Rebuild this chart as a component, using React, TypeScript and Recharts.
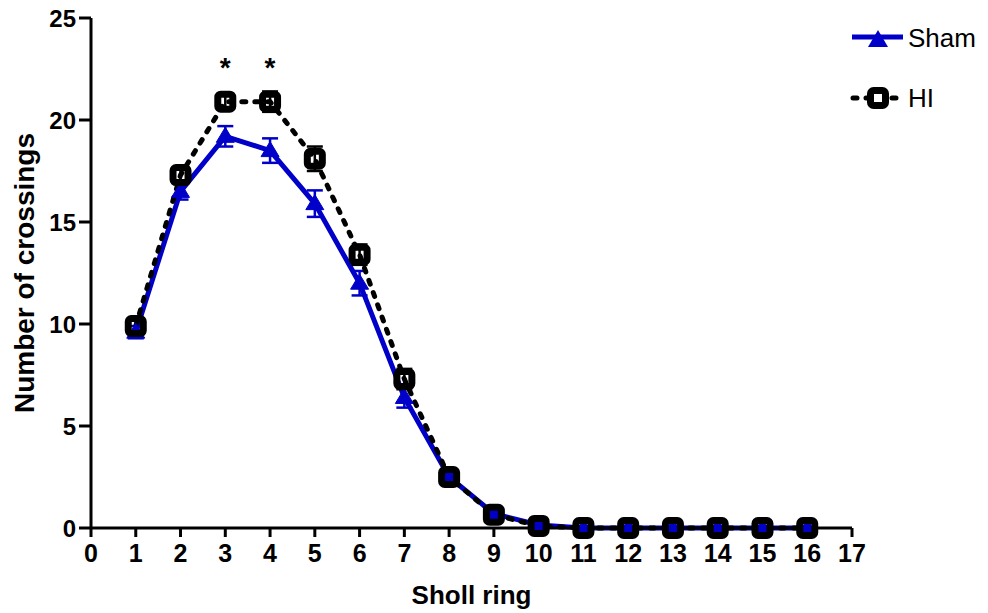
import React from "react";
import {
  LineChart,
  Line,
  XAxis,
  YAxis,
  ErrorBar,
  Legend,
  ReferenceDot,
} from "recharts";

const rings = [1, 2, 3, 4, 5, 6, 7, 8, 9, 10, 11, 12, 13, 14, 15, 16];
const shamMeans = [9.6, 16.5, 19.2, 18.5, 15.9, 12.0, 6.4, 2.5, 0.7, 0.15, 0, 0, 0, 0, 0, 0];
const shamSem = [0.3, 0.4, 0.5, 0.6, 0.65, 0.6, 0.5, 0.2, 0.15, 0.1, 0, 0, 0, 0, 0, 0];
const hiMeans = [9.9, 17.3, 20.9, 20.9, 18.1, 13.4, 7.3, 2.5, 0.65, 0.1, 0, 0, 0, 0, 0, 0];
const hiSem = [0.3, 0.3, 0.4, 0.5, 0.6, 0.5, 0.5, 0.2, 0.1, 0.1, 0, 0, 0, 0, 0, 0];
const xTicks = [0, 1, 2, 3, 4, 5, 6, 7, 8, 9, 10, 11, 12, 13, 14, 15, 16, 17];
const yTicks = [0, 5, 10, 15, 20, 25];
const seriesNames = ["Sham", "HI"];
const starRings = [3, 4];
const starLevel = 22.8;

const BLUE = "#0000c8";
const FONT = "'Liberation Sans', Arial, sans-serif";

const data = rings.map((ring, i) => ({
  ring,
  sham: shamMeans[i],
  shamErr: shamSem[i],
  hi: hiMeans[i],
  hiErr: hiSem[i],
}));

// filled blue triangle marker
const triangleDot = (props: any) => {
  const { cx, cy, index } = props;
  if (cx == null || cy == null) return <g key={`t-${index}`} />;
  return (
    <polygon
      key={`t-${index}`}
      points={`${cx},${cy - 9} ${cx - 9},${cy + 6} ${cx + 9},${cy + 6}`}
      fill={BLUE}
      stroke={BLUE}
      strokeWidth={1}
    />
  );
};

// thick rounded open square marker
const squareDot = (props: any) => {
  const { cx, cy, index } = props;
  if (cx == null || cy == null) return <g key={`s-${index}`} />;
  return (
    <rect
      key={`s-${index}`}
      x={cx - 7.5}
      y={cy - 7.5}
      width={15}
      height={15}
      rx={3}
      fill="none"
      stroke="#000"
      strokeWidth={7}
    />
  );
};

const renderLegend = () => (
  <svg width={140} height={100} style={{ overflow: "visible" }}>
    <line x1={4} y1={17} x2={55} y2={17} stroke={BLUE} strokeWidth={5} />
    <polygon points="30,10 20,27 40,27" fill={BLUE} />
    <text x={60} y={27} fontSize={26} fontFamily={FONT} fill="#000">
      {seriesNames[0]}
    </text>
    <line
      x1={5}
      y1={78}
      x2={55}
      y2={78}
      stroke="#000"
      strokeWidth={5}
      strokeDasharray="4 9"
      strokeLinecap="round"
    />
    <rect x={22.5} y={70.5} width={15} height={15} rx={3} fill="#fff" stroke="#000" strokeWidth={7} />
    <text x={60} y={87} fontSize={26} fontFamily={FONT} fill="#000">
      {seriesNames[1]}
    </text>
  </svg>
);

export default function App() {
  return (
    <div style={{ width: 988, height: 613, background: "#fff" }}>
      <style>{"body{margin:0}"}</style>
      <LineChart
        width={988}
        height={613}
        data={data}
        margin={{ top: 18, right: 136, bottom: 0, left: 0 }}
      >
        <XAxis
          dataKey="ring"
          type="number"
          domain={[0, 17]}
          ticks={xTicks}
          interval={0}
          height={85}
          axisLine={{ stroke: "#000", strokeWidth: 3 }}
          tickLine={{ stroke: "#000", strokeWidth: 3 }}
          tickSize={9}
          tickMargin={7}
          tick={{ fill: "#000", fontSize: 25, fontWeight: "bold", fontFamily: FONT }}
          label={{
            value: "Sholl ring",
            position: "insideBottom",
            offset: 9,
            fill: "#000",
            fontSize: 26,
            fontWeight: "bold",
            fontFamily: FONT,
          }}
        />
        <YAxis
          type="number"
          domain={[0, 25]}
          ticks={yTicks}
          interval={0}
          width={91}
          axisLine={{ stroke: "#000", strokeWidth: 3 }}
          tickLine={{ stroke: "#000", strokeWidth: 3 }}
          tickSize={12}
          tickMargin={3}
          tick={{ fill: "#000", fontSize: 24, fontWeight: "bold", fontFamily: FONT }}
          label={{
            value: "Number of crossings",
            angle: -90,
            position: "insideLeft",
            offset: 24,
            fill: "#000",
            fontSize: 28,
            fontWeight: "bold",
            fontFamily: FONT,
            style: { textAnchor: "middle" },
          }}
        />
        <Legend
          layout="horizontal"
          verticalAlign="middle"
          align="center"
          wrapperStyle={{ top: 20, left: 848, width: 140 }}
          content={renderLegend}
        />

        {/* Sham - solid blue with triangles */}
        <Line
          type="linear"
          dataKey="sham"
          name={seriesNames[0]}
          stroke={BLUE}
          strokeWidth={5}
          dot={triangleDot}
          activeDot={false}
          isAnimationActive={false}
        >
          <ErrorBar dataKey="shamErr" direction="y" width={8} stroke={BLUE} strokeWidth={2.5} />
        </Line>

        {/* HI - dashed black with open squares */}
        <Line
          type="linear"
          dataKey="hi"
          name={seriesNames[1]}
          stroke="#000"
          strokeWidth={5}
          strokeDasharray="4 9"
          strokeLinecap="round"
          dot={squareDot}
          activeDot={false}
          isAnimationActive={false}
        >
          <ErrorBar dataKey="hiErr" direction="y" width={8} stroke="#000" strokeWidth={2.5} />
        </Line>

        {starRings.map((r) => (
          <ReferenceDot
            key={`star-${r}`}
            x={r}
            y={starLevel}
            r={0}
            shape={(p: any) => (
              <text
                x={p.cx}
                y={p.cy + 14}
                textAnchor="middle"
                fontSize={28}
                fontWeight="bold"
                fontFamily={FONT}
                fill="#000"
              >
                *
              </text>
            )}
          />
        ))}
      </LineChart>
    </div>
  );
}
